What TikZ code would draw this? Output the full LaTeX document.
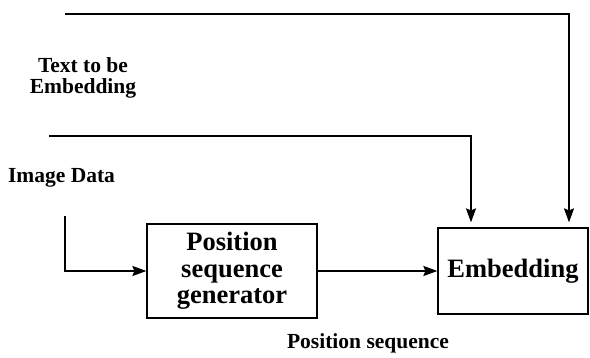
\documentclass[tikz,border=0pt]{standalone}
\usepackage{fontspec}
\setmainfont{Liberation Serif}
\usetikzlibrary{arrows.meta}
\begin{document}
\begin{tikzpicture}[x=1pt,y=-1pt,
  wire/.style={line width=1.8pt,line join=miter},
  arr/.style={wire,-{Stealth[length=14pt,width=10pt,inset=2pt]}},
  blockbox/.style={draw,line width=1.2pt,minimum width=#1,align=center,
    font=\fontsize{26.5}{26.5}\selectfont\bfseries,inner sep=0pt},
  lbl/.style={align=center,font=\fontsize{21.5}{21.5}\selectfont\bfseries,inner sep=0pt}]
\useasboundingbox (0,0) rectangle (590,358);
% processing blocks
\node[blockbox=170pt,minimum height=94pt] (pos) at (232,271) {Position\\sequence\\generator};
\node[blockbox=150pt,minimum height=86pt] (emb) at (513,271) {Embedding};
% labels
\node[lbl] (txt) at (83,78) {Text to be\\Embedding};
\node[lbl] (img) at (61.5,178) {Image Data};
\node[lbl] (seq) at (368,343) {Position sequence};
% wire corners
\coordinate (t0) at (65,14);
\coordinate (t1) at (569,14);
\coordinate (s0) at (49,136);
\coordinate (s1) at (471,136);
\coordinate (i0) at (65,216);
% connectors
\draw[arr,shorten >=5pt] (t0) -- (t1) -- (t1 |- emb.north);
\draw[arr,shorten >=5pt] (s0) -- (s1) -- (s1 |- emb.north);
\draw[arr] (i0) |- (pos.west);
\draw[arr] (pos.east) -- (emb.west);
\end{tikzpicture}
\end{document}
